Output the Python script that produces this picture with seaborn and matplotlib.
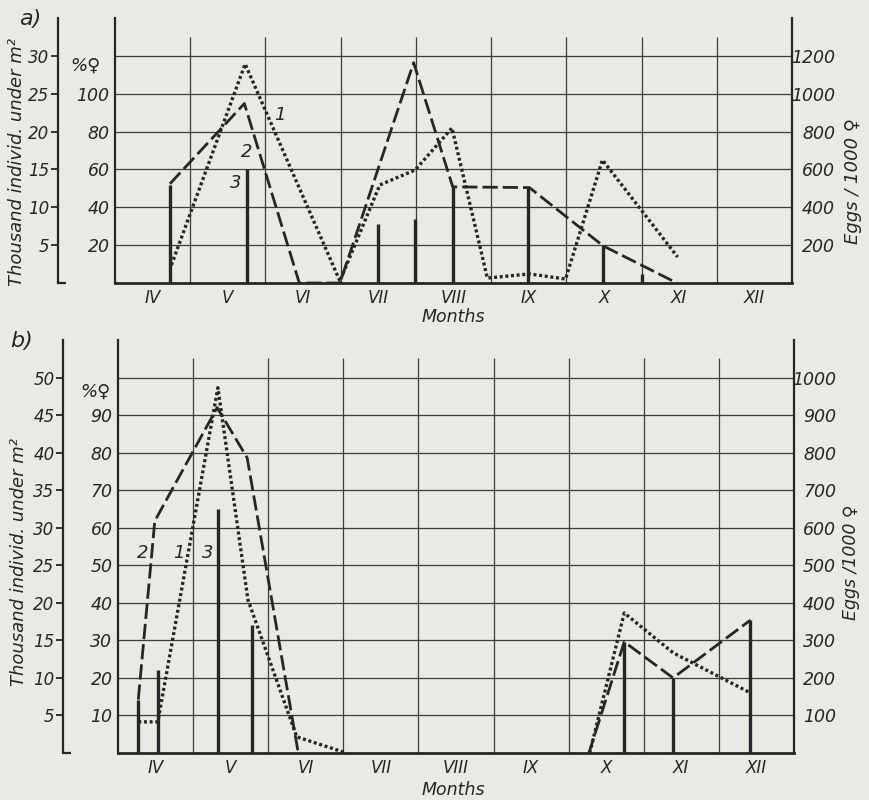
import matplotlib
matplotlib.use("Agg")
import matplotlib.pyplot as plt
import matplotlib.transforms as mtransforms
import seaborn as sns

# ---------------- data ----------------
months = ["IV", "V", "VI", "VII", "VIII", "IX", "X", "XI", "XII"]
month_pos = [4, 5, 6, 7, 8, 9, 10, 11, 12]

# panel a)  (1 = eggs / 1000 females, 2 = thousand individuals per m2, 3 = % females)
a_eggs_x = [4.25, 5.23, 6.49, 7.02, 7.49, 7.98, 8.45, 9.01, 9.49, 9.98, 10.98]
a_eggs_y = [95, 1157, 10, 518, 597, 819, 26, 48, 21, 650, 137]
a_ind_x = [4.23, 5.22, 5.95, 6.49, 7.47, 7.99, 9.01, 9.99, 10.97]
a_ind_y = [13.1, 23.7, 0, 0, 29.1, 12.7, 12.6, 4.9, 0]
a_fem_x = [4.23, 5.25, 6.99, 7.49, 7.99, 8.99, 9.99, 10.5]
a_fem_y = [52, 60, 31, 34, 51, 50, 20, 5]

# panel b)
b_eggs_x1 = [3.77, 4.03, 4.83, 5.23, 5.88, 6.54]
b_eggs_y1 = [83, 83, 973, 408, 43, 0]
b_eggs_x2 = [9.78, 10.24, 10.89, 11.92]
b_eggs_y2 = [0, 373, 267, 160]
b_ind_x1 = [3.77, 3.99, 4.82, 5.22, 5.90]
b_ind_y1 = [7.1, 30.9, 46.0, 39.3, 0]
b_ind_x2 = [9.77, 10.24, 10.89, 11.92]
b_ind_y2 = [0, 14.8, 10.0, 17.7]
b_fem_x = [3.77, 4.03, 4.83, 5.28, 10.24, 10.89, 11.92]
b_fem_y = [14, 22, 65, 34, 29.6, 20, 35.5]

a_th_ticks = [5, 10, 15, 20, 25, 30]
a_pct_ticks = [20, 40, 60, 80, 100]
a_egg_ticks = [200, 400, 600, 800, 1000, 1200]
b_th_ticks = [5, 10, 15, 20, 25, 30, 35, 40, 45, 50]
b_pct_ticks = [10, 20, 30, 40, 50, 60, 70, 80, 90]
b_egg_ticks = [100, 200, 300, 400, 500, 600, 700, 800, 900, 1000]

# ---------------- style ----------------
BG = "#eae9e4"
INK = "#262626"
GRID = "#3c3c3c"
PX = 0.72  # points per pixel at dpi 100

sns.set_style("white", rc={"axes.facecolor": BG, "figure.facecolor": BG})
plt.rcParams["font.family"] = ["DejaVu Sans"]
plt.rcParams["font.style"] = "italic"
plt.rcParams["text.color"] = INK

fig = plt.figure(figsize=(8.7, 8.0), dpi=100)
fig.patch.set_facecolor(BG)

DASH = (5.5, 1.8)
DOT = (0.9, 0.8)


def draw_line(ax, xs, ys, dashes, lw):
    sns.lineplot(x=xs, y=ys, ax=ax, color=INK, linewidth=lw, sort=False,
                 estimator=None, legend=False)
    ax.lines[-1].set_dashes(dashes)
    ax.lines[-1].set_solid_capstyle("butt")


def panel(rect, th_max, pct_f, egg_f, th_ticks, pct_ticks, egg_ticks,
          outer_px, vgrid_top, egg_pad_px, ind_segs, egg_segs, fem_x, fem_y):
    ax = fig.add_axes(rect)
    ax.set_facecolor(BG)
    ax.set_xlim(3.5, 12.5)
    ax.set_ylim(0, th_max)
    ax.set_xticks(month_pos)
    ax.set_xticklabels(months)
    ax.tick_params(axis="x", bottom=False, length=0, pad=4, labelsize=12,
                   colors=INK)
    ax.set_yticks(th_ticks)
    ax.tick_params(axis="y", left=True, labelleft=True, direction="out",
                   length=5, width=1.3, pad=1, labelsize=12, colors=INK)
    ax.set_yticks([0], minor=True)
    ax.tick_params(axis="y", which="minor", left=True, direction="in",
                   length=6, width=1.6, colors=INK)
    ax.spines["left"].set_position(("outward", outer_px * PX))
    ax.spines["top"].set_visible(False)
    ax.spines["right"].set_visible(False)
    ax.spines["bottom"].set_linewidth(2.0)
    ax.spines["left"].set_linewidth(1.6)
    for s in ("left", "bottom"):
        ax.spines[s].set_color(INK)
    ax.set_axisbelow(True)
    ax.yaxis.grid(True, which="major", color=GRID, lw=0.9)
    ax.xaxis.grid(False)
    bounds = [m + 0.5 for m in month_pos[:-1]]
    ax.vlines(bounds, 0, vgrid_top, color=GRID, lw=0.9, zorder=0.5)

    # % females axis (inner left)
    axp = ax.twinx()
    axp.set_ylim(0, th_max * pct_f)
    axp.yaxis.tick_left()
    axp.set_yticks(pct_ticks)
    axp.tick_params(axis="y", left=True, right=False, labelleft=True,
                    labelright=False, length=0, pad=4, labelsize=12.5,
                    colors=INK)
    for s in ("right", "top", "bottom"):
        axp.spines[s].set_visible(False)
    axp.spines["left"].set_visible(True)
    axp.spines["left"].set_linewidth(1.6)
    axp.spines["left"].set_color(INK)

    # eggs axis (right)
    axe = ax.twinx()
    axe.set_ylim(0, th_max * egg_f)
    axe.set_yticks(egg_ticks, labels=[str(v) for v in egg_ticks], ha="right")
    axe.tick_params(axis="y", right=True, labelright=True, left=False,
                    labelleft=False, length=0, pad=egg_pad_px * PX,
                    labelsize=12.5, colors=INK)
    for s in ("left", "top", "bottom"):
        axe.spines[s].set_visible(False)
    axe.spines["right"].set_visible(True)
    axe.spines["right"].set_linewidth(1.6)
    axe.spines["right"].set_color(INK)

    # data
    axp.vlines(fem_x, 0, fem_y, color=INK, lw=2.4)
    for xs, ys in ind_segs:
        draw_line(ax, xs, ys, DASH, 2.0)
    for xs, ys in egg_segs:
        draw_line(axe, xs, ys, DOT, 2.4)
    return ax, axp, axe


# ---------------- panel a ----------------
ax_a, axp_a, axe_a = panel(
    [115 / 870, 1 - 283 / 800, 677 / 870, 265 / 800], 35.0, 4, 40,
    a_th_ticks, a_pct_ticks, a_egg_ticks, 57, 32.5, 43,
    [(a_ind_x, a_ind_y)], [(a_eggs_x, a_eggs_y)], a_fem_x, a_fem_y)

# ---------------- panel b ----------------
ax_b, axp_b, axe_b = panel(
    [118 / 870, 1 - 753 / 800, 676 / 870, 413 / 800], 55.0, 2, 20,
    b_th_ticks, b_pct_ticks, b_egg_ticks, 55, 52.6, 42,
    [(b_ind_x1, b_ind_y1), (b_ind_x2, b_ind_y2)],
    [(b_eggs_x1, b_eggs_y1), (b_eggs_x2, b_eggs_y2)], b_fem_x, b_fem_y)

# series numbers
for ax, pos in ((ax_a, [(5.69, 22.2, "1"), (5.25, 17.3, "2"), (5.11, 13.2, "3")]),
                (ax_b, [(3.83, 26.7, "2"), (4.31, 26.7, "1"), (4.70, 26.7, "3")])):
    for x, y, t in pos:
        ax.text(x, y, t, fontsize=13, ha="center", va="center", color=INK)

# "% ♀" labels
tr_a = mtransforms.blended_transform_factory(axp_a.transAxes, axp_a.transData)
axp_a.text(-0.043, 115, "%♀", transform=tr_a, fontsize=13, ha="center",
           va="center", color=INK)
tr_b = mtransforms.blended_transform_factory(axp_b.transAxes, axp_b.transData)
axp_b.text(-0.034, 96.3, "%♀", transform=tr_b, fontsize=13, ha="center",
           va="center", color=INK)

# axis titles
fig.text(17 / 870, 1 - 162 / 800, "Thousand individ. under m²", rotation=90,
         ha="center", va="center", fontsize=13)
fig.text(19 / 870, 1 - 562 / 800, "Thousand individ. under m²", rotation=90,
         ha="center", va="center", fontsize=13)
fig.text(853 / 870, 1 - 181 / 800, "Eggs / 1000 ♀", rotation=90,
         ha="center", va="center", fontsize=13)
fig.text(851 / 870, 1 - 562 / 800, "Eggs /1000 ♀", rotation=90,
         ha="center", va="center", fontsize=12.5)
fig.text(453 / 870, 1 - 317 / 800, "Months", ha="center", va="center",
         fontsize=12.5)
fig.text(453 / 870, 1 - 790 / 800, "Months", ha="center", va="center",
         fontsize=12.5)
fig.text(30 / 870, 1 - 19 / 800, "a)", ha="center", va="center", fontsize=16)
fig.text(22 / 870, 1 - 341 / 800, "b)", ha="center", va="center", fontsize=16)

fig.savefig("out.png", dpi=100, facecolor=BG)
